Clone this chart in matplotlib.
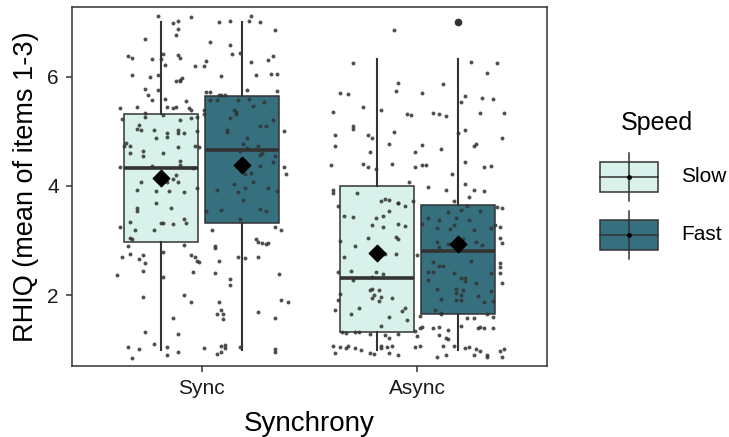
import matplotlib
matplotlib.use("Agg")
import matplotlib.pyplot as plt
from matplotlib.patches import Rectangle

plt.rcParams['font.family'] = ['Liberation Sans', 'DejaVu Sans']

groups = ["Sync", "Async"]
speeds = ["Slow", "Fast"]
colors = {"Slow": "#d9f1eb", "Fast": "#36707f"}

# box stats, order: Sync-Slow, Sync-Fast, Async-Slow, Async-Fast
q1 = [2.98, 3.32, 1.33, 1.65]
med = [4.32, 4.65, 2.31, 2.81]
q3 = [5.32, 5.65, 4.00, 3.65]
whis_lo = [1.0, 1.0, 1.0, 1.0]
whis_hi = [7.0, 7.0, 6.33, 6.33]
means = [4.14, 4.39, 2.78, 2.93]
outliers = [[], [], [], [7.0]]

# jittered raw points (offset from group centre, value)
sync_points = [
    (-0.20, 7.11), (-0.05, 7.10), (-0.13, 6.98), (-0.11, 7.02), (-0.11, 6.87), (-0.12, 6.76),
    (-0.26, 6.70), (-0.34, 6.38), (-0.32, 6.34), (-0.23, 6.32), (-0.19, 6.33), (-0.18, 6.42),
    (-0.11, 6.40), (-0.10, 6.34), (-0.17, 6.21), (-0.03, 6.19), (-0.32, 6.04), (-0.24, 5.99),
    (-0.20, 6.04), (-0.12, 5.93), (-0.10, 5.94), (-0.09, 5.97), (-0.10, 5.92), (-0.26, 5.77),
    (-0.20, 5.76), (-0.25, 5.67), (-0.23, 5.58), (-0.17, 5.60), (-0.07, 5.55), (-0.38, 5.42),
    (-0.30, 5.45), (-0.16, 5.45), (-0.13, 5.42), (-0.12, 5.45), (-0.06, 5.42), (-0.05, 5.40),
    (-0.37, 5.22), (-0.29, 5.11), (-0.26, 5.33), (-0.26, 5.26), (-0.18, 5.30), (-0.10, 5.20),
    (-0.05, 5.25), (-0.02, 5.26),
    (0.08, 7.00), (0.13, 7.03), (0.22, 7.03), (0.23, 7.11), (0.27, 7.00), (0.34, 6.85),
    (0.04, 6.64), (0.13, 6.59), (0.14, 6.42), (0.18, 6.43), (0.02, 6.29), (0.01, 6.19),
    (0.23, 6.28), (0.31, 6.30), (0.33, 6.38), (0.09, 6.02), (0.25, 6.04), (0.32, 6.06),
    (0.35, 6.06), (0.02, 5.72), (0.04, 5.72), (0.21, 5.76), (0.35, 5.74), (0.08, 5.66),
    (0.09, 5.66), (0.11, 5.66), (0.04, 5.57), (0.07, 5.57), (0.17, 5.58), (0.22, 5.60),
    (0.29, 5.54), (0.15, 5.40), (0.16, 5.35), (0.16, 5.32), (0.24, 5.46), (0.13, 5.24),
    (0.33, 5.20), (0.27, 5.09), (0.30, 5.10), (0.01, 5.39), (0.01, 5.32),
    (-0.30, 5.05), (-0.28, 5.03), (-0.22, 5.02), (-0.11, 5.03), (-0.11, 4.97), (-0.08, 4.97),
    (-0.02, 5.00), (-0.16, 4.97), (-0.16, 4.89), (-0.21, 4.87), (-0.35, 4.78), (-0.36, 4.73),
    (-0.33, 4.73), (-0.33, 4.61), (-0.27, 4.64), (-0.27, 4.54), (-0.18, 4.61), (-0.11, 4.72),
    (-0.03, 4.73), (-0.01, 4.71), (-0.10, 4.45), (-0.10, 4.38), (-0.23, 4.36), (-0.38, 4.34),
    (-0.04, 4.32), (-0.12, 4.20), (-0.13, 4.12), (-0.11, 4.08), (-0.16, 4.08), (-0.28, 4.08),
    (-0.30, 3.92), (-0.21, 3.91), (-0.15, 3.91), (-0.08, 3.89), (-0.02, 3.96), (-0.21, 3.68),
    (-0.14, 3.60), (-0.30, 3.60), (-0.30, 3.54), (-0.33, 3.34), (-0.31, 3.19), (-0.22, 3.19),
    (-0.19, 3.33), (-0.18, 3.33), (-0.13, 3.31), (-0.08, 3.40), (-0.07, 3.33), (-0.38, 3.25),
    (-0.33, 3.04), (-0.32, 3.02), (-0.34, 2.90), (-0.08, 2.92),
    (0.12, 5.03), (0.12, 4.99), (0.21, 4.87), (0.19, 4.76), (0.21, 4.70), (0.26, 4.73),
    (0.18, 4.64), (0.28, 4.61), (0.27, 4.56), (0.34, 4.55), (0.33, 4.44), (0.27, 4.37),
    (0.38, 5.00), (0.20, 4.21), (0.23, 4.23), (0.24, 4.08), (0.15, 4.04), (0.20, 3.96),
    (0.17, 3.89), (0.07, 3.93), (0.31, 3.96), (0.35, 3.90), (0.19, 3.74), (0.09, 3.56),
    (0.02, 3.54), (0.27, 3.57), (0.30, 3.55), (0.18, 3.40), (0.38, 4.34), (0.39, 4.21),
    (0.05, 3.20), (0.34, 3.25), (0.37, 3.20), (0.25, 3.03), (0.26, 2.98), (0.28, 2.95),
    (0.30, 2.94), (0.31, 2.96), (0.06, 2.90),
    (-0.37, 2.70), (-0.33, 2.75), (-0.29, 2.67), (-0.27, 2.73), (-0.26, 2.58), (-0.27, 2.44),
    (-0.39, 2.37), (-0.18, 2.79), (-0.18, 2.33), (-0.05, 2.73), (-0.03, 2.69), (-0.02, 2.63),
    (-0.01, 2.60), (0.08, 2.63), (-0.04, 2.42), (0.06, 2.40), (0.13, 2.29), (0.13, 2.19),
    (0.17, 2.70), (0.20, 2.68), (0.26, 2.70), (0.06, 2.86), (0.36, 2.38), (-0.27, 1.96),
    (-0.08, 2.01), (-0.05, 1.88), (0.08, 1.88), (0.09, 1.72), (0.07, 1.65), (0.10, 1.66),
    (0.10, 1.56), (0.26, 1.69), (0.34, 1.58), (0.37, 1.91), (0.40, 1.88), (-0.13, 1.58),
    (-0.26, 1.32), (-0.11, 1.28), (-0.22, 1.10), (-0.34, 1.05), (-0.29, 1.01), (-0.32, 0.85),
    (-0.16, 1.04), (-0.16, 0.91), (-0.11, 0.95), (0.01, 1.03), (0.09, 1.06), (0.11, 1.09),
    (0.11, 1.03), (0.09, 0.96), (0.07, 0.92), (0.18, 1.04), (0.34, 1.01), (0.34, 0.95),
]

async_points = [
    (-0.11, 6.86), (-0.30, 6.26), (-0.36, 5.71), (-0.32, 5.68), (-0.39, 5.36), (-0.25, 5.44),
    (-0.30, 5.09), (-0.17, 5.39), (-0.09, 5.89), (-0.10, 5.74), (-0.05, 5.31), (-0.03, 5.30),
    (0.02, 5.71), (0.07, 5.33), (0.10, 5.31), (0.13, 5.28), (0.12, 5.87), (0.25, 6.27),
    (0.32, 6.07), (0.37, 6.26), (0.22, 5.65), (0.20, 5.53), (0.30, 5.62), (0.35, 5.60),
    (0.29, 5.34), (0.40, 5.33),
    (-0.30, 5.05), (-0.38, 4.93), (-0.38, 4.73), (-0.23, 4.94), (-0.21, 4.88), (-0.11, 4.98),
    (-0.13, 4.77), (-0.22, 4.62), (-0.40, 4.38), (-0.25, 4.40), (-0.23, 4.34), (-0.19, 4.31),
    (-0.12, 4.41), (0.02, 4.75), (-0.01, 4.63), (0.02, 4.39), (0.04, 4.38), (-0.01, 4.34),
    (0.11, 4.67), (0.19, 4.97), (0.22, 5.02), (0.26, 4.73), (0.27, 4.76), (0.39, 4.88),
    (0.22, 4.44), (0.31, 4.34), (0.34, 4.37), (0.16, 4.22), (-0.04, 4.08), (0.05, 3.99),
    (0.13, 3.92), (0.22, 4.03), (0.26, 3.92), (0.31, 3.91), (-0.39, 3.92), (-0.39, 3.87),
    (-0.28, 3.87), (0.24, 3.79), (0.17, 3.73), (0.23, 3.64), (-0.02, 3.72), (-0.37, 3.64),
    (-0.17, 3.72), (-0.15, 3.77), (-0.13, 3.75), (-0.09, 3.69), (-0.09, 3.68), (-0.06, 3.64),
    (-0.13, 3.55), (-0.34, 3.45), (-0.30, 3.44), (-0.19, 3.42), (-0.16, 3.45), (-0.21, 3.29),
    (-0.16, 3.24), (-0.09, 3.30), (-0.06, 3.27), (-0.23, 3.05), (-0.10, 3.07), (-0.09, 3.02),
    (-0.36, 3.00), (-0.29, 2.90), (0.02, 3.31),
    (0.05, 3.41), (0.10, 3.38), (0.14, 3.52), (0.18, 3.41), (0.20, 3.56), (0.24, 3.38),
    (0.29, 3.55), (0.09, 3.23), (0.15, 3.22), (0.17, 3.28), (0.26, 3.20), (0.34, 3.23),
    (0.36, 3.29), (0.38, 3.24), (0.37, 3.61), (0.39, 3.60), (0.38, 3.05), (0.39, 2.96),
    (0.09, 2.97), (0.14, 2.94), (0.27, 2.97), (0.30, 2.92), (0.21, 3.03), (0.10, 2.88),
    (-0.34, 2.69), (-0.37, 2.43), (-0.31, 2.44), (-0.30, 2.28), (-0.19, 2.43), (-0.16, 2.38),
    (-0.21, 2.33), (-0.15, 2.76), (-0.10, 2.76), (0.00, 2.74), (-0.36, 2.02), (-0.37, 1.91),
    (-0.38, 1.73), (-0.22, 2.09), (-0.21, 2.11), (-0.18, 2.10), (-0.21, 1.94), (-0.20, 2.00),
    (-0.17, 1.96), (-0.18, 1.90), (-0.12, 1.94), (-0.27, 1.76), (-0.31, 1.66), (-0.06, 1.77),
    (-0.07, 1.71), (-0.13, 1.59), (-0.05, 1.54), (-0.17, 1.43), (-0.35, 1.32), (-0.33, 1.31),
    (-0.29, 1.32), (-0.27, 1.32), (-0.22, 1.28), (-0.15, 1.26), (-0.13, 1.21), (-0.09, 1.28),
    (-0.39, 1.07), (-0.36, 1.04), (-0.33, 1.03), (-0.32, 1.07), (-0.29, 1.03), (-0.38, 0.94),
    (-0.26, 1.00), (-0.22, 0.94), (-0.20, 0.92), (-0.17, 1.03), (-0.17, 1.07), (-0.14, 1.04),
    (-0.12, 1.07), (-0.13, 0.94), (-0.09, 0.90), (0.01, 1.40), (0.02, 1.42), (0.00, 1.25),
    (-0.01, 1.05), (0.01, 1.07), (-0.01, 1.35),
    (0.07, 2.60), (0.10, 2.54), (0.12, 2.54), (0.05, 2.43), (0.07, 2.43), (0.05, 2.27),
    (0.17, 2.41), (0.25, 2.62), (0.20, 2.31), (0.22, 2.32), (0.22, 2.25), (0.27, 2.23),
    (0.34, 2.41), (0.38, 2.58), (0.38, 2.52), (0.38, 2.41), (0.39, 2.23), (0.09, 2.11),
    (0.11, 1.93), (0.18, 2.12), (0.21, 2.10), (0.18, 2.04), (0.18, 1.91), (0.20, 1.91),
    (0.20, 2.00), (0.28, 1.98), (0.31, 1.88), (0.34, 2.08), (0.35, 1.90), (0.08, 1.72),
    (0.11, 1.67), (0.11, 1.65), (0.32, 1.65), (0.35, 1.59), (0.23, 1.58), (0.26, 1.58),
    (0.20, 1.44), (0.01, 1.61), (0.07, 1.40), (0.10, 1.42), (0.14, 1.36), (0.10, 1.26),
    (0.13, 1.21), (0.14, 1.20), (0.28, 1.40), (0.29, 1.41), (0.31, 1.39), (0.35, 1.40),
    (0.12, 1.07), (0.17, 1.07), (0.22, 1.03), (0.24, 1.05), (0.27, 1.01), (0.29, 0.98),
    (0.32, 0.91), (0.32, 0.87), (0.26, 0.90), (0.38, 0.98), (0.40, 1.02), (0.39, 0.86),
    (0.09, 0.86), (0.13, 0.90),
]

W, H = 729, 437
fig = plt.figure(figsize=(W / 100, H / 100), dpi=100)
ax = fig.add_axes([72 / W, (H - 366) / H, 475 / W, 359 / H])

dodge = 0.1875
positions = []
box_colors = []
for gi, g in enumerate(groups):
    for s in speeds:
        positions.append(gi + 1 + (-dodge if s == "Slow" else dodge))
        box_colors.append(colors[s])

stats = []
for i in range(4):
    stats.append(dict(med=med[i], q1=q1[i], q3=q3[i], whislo=whis_lo[i],
                      whishi=whis_hi[i], fliers=outliers[i]))

edge = "#333333"
bp = ax.bxp(stats, positions=positions, widths=0.34, patch_artist=True,
            showcaps=False, showfliers=True,
            boxprops=dict(edgecolor=edge, linewidth=1.1),
            medianprops=dict(color=edge, linewidth=2.6),
            whiskerprops=dict(color=edge, linewidth=1.5),
            flierprops=dict(marker='o', markerfacecolor=edge, markeredgecolor=edge,
                            markersize=4.5))
for patch, c in zip(bp['boxes'], box_colors):
    patch.set_facecolor(c)

for gi, pts in enumerate([sync_points, async_points]):
    xs = [gi + 1 + p[0] for p in pts]
    ys = [p[1] for p in pts]
    ax.scatter(xs, ys, s=8, color="#333333", alpha=0.85, linewidths=0, zorder=3)

ax.scatter(positions, means, marker='D', s=70, color="black", zorder=4)

ax.set_xlim(0.4, 2.6)
ax.set_ylim(0.7, 7.28)
ax.set_xticks([1, 2])
ax.set_xticklabels(groups)
ax.set_yticks([2, 4, 6])
ax.tick_params(axis='both', labelsize=15, length=4.5, width=1.1, color=edge,
               labelcolor="#1a1a1a", pad=5)
for sp in ax.spines.values():
    sp.set_color(edge)
    sp.set_linewidth(1.1)
ax.set_xlabel("Synchrony", fontsize=20, labelpad=9)
ax.set_ylabel("RHIQ (mean of items 1-3)", fontsize=19.5, labelpad=6)

# legend drawn in pixel space
lg = fig.add_axes([0, 0, 1, 1], facecolor="none")
lg.set_xlim(0, W)
lg.set_ylim(H, 0)
lg.axis("off")
lg.text(621, 123, "Speed", fontsize=18, va="center", ha="left")
for s, cy in zip(speeds, [177, 235]):
    lg.plot([629, 629], [cy - 24, cy + 24], color=edge, lw=1.1)
    lg.add_patch(Rectangle((600, cy - 15), 58, 30, facecolor=colors[s],
                           edgecolor=edge, linewidth=1.1))
    lg.plot([600, 658], [cy, cy], color=edge, lw=1.1)
    lg.plot([629], [cy], marker='o', markersize=2.5, color="black")
    lg.text(681, cy, s, fontsize=15, va="center", ha="left")

fig.savefig("out.png", dpi=100)
